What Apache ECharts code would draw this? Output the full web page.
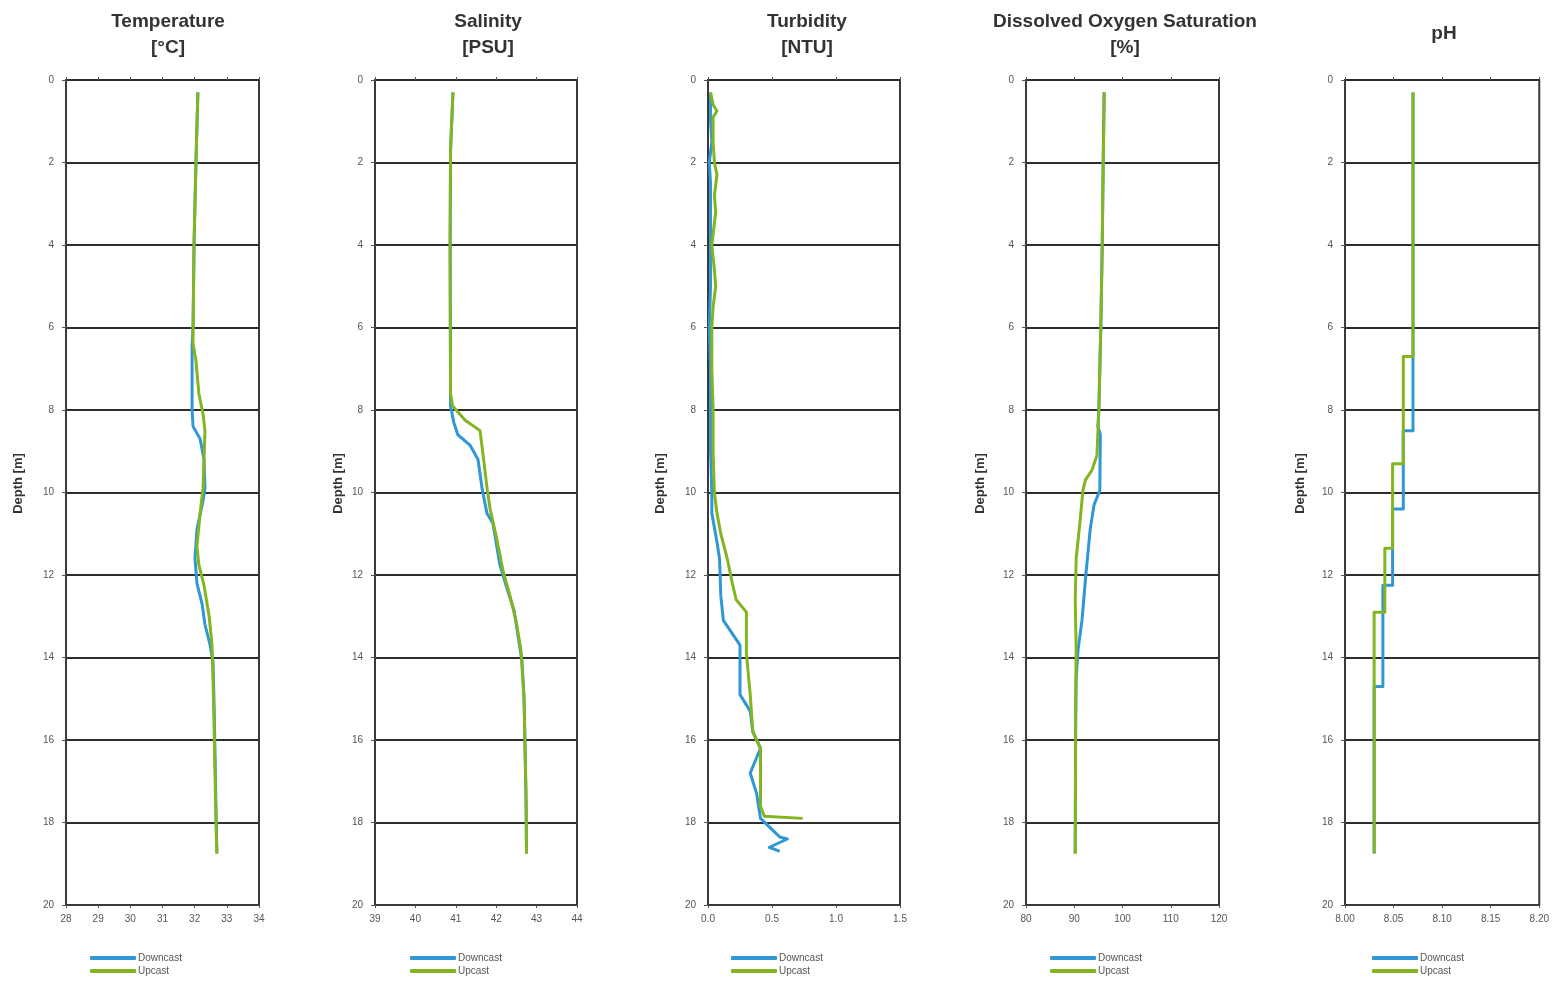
<!DOCTYPE html>
<html>
<head>
<meta charset="utf-8">
<title>CTD profiles</title>
<script src="https://cdn.jsdelivr.net/npm/echarts@6/dist/echarts.min.js"></script>
<style>
  html, body { margin: 0; padding: 0; background: #fff; }
  #chart { width: 1552px; height: 981px; }
</style>
</head>
<body>
<div id="chart"></div>
<script>
// ---- Profile data: depth [m] and measured value, downcast and upcast ----
const tempDownDepth = [0.3, 2.0, 4.0, 6.0, 6.4, 7.0, 8.0, 8.4, 8.7, 9.2, 9.9, 10.2, 10.9, 11.6, 12.2, 12.7, 13.2, 13.7, 14.1, 15.0, 16.2, 17.5, 18.75];
const tempDown      = [32.10, 32.04, 31.98, 31.95, 31.92, 31.92, 31.92, 31.95, 32.17, 32.29, 32.32, 32.26, 32.07, 32.01, 32.07, 32.23, 32.32, 32.48, 32.57, 32.60, 32.63, 32.66, 32.69];
const tempUpDepth   = [0.3, 2.0, 4.0, 6.0, 6.4, 6.8, 7.6, 8.1, 8.5, 9.2, 9.9, 10.5, 11.3, 11.75, 12.25, 13.0, 13.7, 14.5, 15.5, 16.7, 17.9, 18.75];
const tempUp        = [32.10, 32.04, 31.98, 31.95, 31.95, 32.04, 32.13, 32.26, 32.32, 32.29, 32.26, 32.17, 32.07, 32.13, 32.29, 32.45, 32.54, 32.57, 32.60, 32.63, 32.66, 32.69];

const salDownDepth = [0.3, 1.7, 4.0, 7.9, 8.3, 8.6, 8.85, 9.2, 9.9, 10.5, 10.75, 11.75, 12.4, 12.85, 13.6, 14.1, 15.0, 17.5, 18.75];
const salDown      = [40.93, 40.87, 40.86, 40.87, 40.95, 41.05, 41.35, 41.55, 41.65, 41.77, 41.92, 42.09, 42.29, 42.44, 42.56, 42.64, 42.69, 42.74, 42.75];
const salUpDepth   = [0.3, 1.7, 4.0, 7.6, 7.9, 8.25, 8.5, 9.45, 9.95, 10.4, 11.15, 11.9, 12.5, 13.1, 13.8, 15.0, 17.5, 18.75];
const salUp        = [40.93, 40.87, 40.86, 40.87, 40.92, 41.23, 41.60, 41.72, 41.78, 41.85, 42.02, 42.17, 42.34, 42.49, 42.61, 42.69, 42.74, 42.75];

const turbDownDepth = [0.3, 1.0, 1.5, 2.0, 2.5, 3.0, 4.0, 5.0, 6.0, 7.0, 8.0, 9.0, 10.0, 10.5, 11.2, 11.6, 12.5, 13.1, 13.7, 14.9, 15.3, 15.8, 16.2, 16.8, 17.3, 17.9, 18.35, 18.4, 18.6, 18.7];
const turbDown      = [0.02, 0.02, 0.03, 0.01, 0.02, 0.02, 0.02, 0.02, 0.01, 0.02, 0.02, 0.02, 0.03, 0.03, 0.07, 0.09, 0.10, 0.12, 0.25, 0.25, 0.33, 0.35, 0.41, 0.33, 0.38, 0.41, 0.56, 0.62, 0.48, 0.56];
const turbUpDepth   = [0.3, 0.6, 0.75, 0.9, 1.5, 2.0, 2.3, 2.8, 3.2, 4.0, 4.6, 5.0, 5.5, 6.0, 7.0, 8.0, 9.0, 10.0, 10.5, 11.0, 11.6, 12.2, 12.6, 12.9, 13.9, 14.9, 15.8, 16.2, 17.6, 17.85, 17.9];
const turbUp        = [0.02, 0.04, 0.07, 0.04, 0.04, 0.05, 0.07, 0.05, 0.06, 0.03, 0.05, 0.06, 0.04, 0.03, 0.03, 0.04, 0.04, 0.05, 0.07, 0.10, 0.15, 0.19, 0.22, 0.30, 0.30, 0.33, 0.35, 0.41, 0.41, 0.44, 0.74];

const doDownDepth = [0.3, 2.0, 4.0, 6.0, 8.0, 8.4, 8.6, 9.95, 10.3, 10.9, 12.0, 13.1, 13.8, 14.5, 15.5, 18.75];
const doDown      = [96.2, 96.0, 95.8, 95.5, 95.1, 94.9, 95.4, 95.3, 94.1, 93.3, 92.4, 91.6, 90.8, 90.4, 90.3, 90.2];
const doUpDepth   = [0.3, 2.0, 4.0, 6.0, 8.0, 9.1, 9.45, 9.7, 9.95, 10.7, 11.6, 12.6, 13.8, 15.0, 18.75];
const doUp        = [96.2, 96.0, 95.8, 95.5, 95.1, 94.7, 93.7, 92.3, 91.8, 91.2, 90.4, 90.2, 90.4, 90.3, 90.2];

const phDownDepth = [0.3, 8.5, 8.5, 10.4, 10.4, 12.25, 12.25, 14.7, 14.7, 18.75];
const phDown      = [8.070, 8.070, 8.060, 8.060, 8.049, 8.049, 8.039, 8.039, 8.030, 8.030];
const phUpDepth   = [0.3, 6.7, 6.7, 9.3, 9.3, 11.35, 11.35, 12.9, 12.9, 18.75];
const phUp        = [8.070, 8.070, 8.060, 8.060, 8.049, 8.049, 8.041, 8.041, 8.030, 8.030];

// ---- Panel titles, axis ranges and tick label text ----
const panelTitles = ['Temperature\n[°C]', 'Salinity\n[PSU]', 'Turbidity\n[NTU]', 'Dissolved Oxygen Saturation\n[%]', 'pH'];
const xMin      = [28, 39, 0.0, 80, 8.00];
const xMax      = [34, 44, 1.5, 120, 8.20];
const xInterval = [1, 1, 0.5, 10, 0.05];
const xDecimals = [0, 0, 1, 0, 2];
const depthTicks = [0, 20, 2];
const seriesNames = ['Downcast', 'Upcast'];

const downData = [[tempDown, tempDownDepth], [salDown, salDownDepth], [turbDown, turbDownDepth], [doDown, doDownDepth], [phDown, phDownDepth]];
const upData   = [[tempUp, tempUpDepth], [salUp, salUpDepth], [turbUp, turbUpDepth], [doUp, doUpDepth], [phUp, phUpDepth]];

// ---- Layout of the five panels ----
const panelLeft  = [66, 375, 708, 1026, 1345];
const panelWidth = [193, 202, 192, 193, 195];
const panelTop = 80, panelHeight = 825;
const titleCenter = [163, 483, 802, 1120, 1439];
const nameGap = [41, 30, 41, 39, 38];
const legendLeft = [90, 410, 731, 1050, 1372];

const BLUE = '#2f97d6';
const GREEN = '#82b51f';
const FONT = 'Liberation Sans, Arial, sans-serif';

const pairs = (vals, depths) => vals.map((v, i) => [v, depths[i]]);

const grid = [], xAxis = [], yAxis = [], series = [], title = [], legend = [];

for (let i = 0; i < 5; i++) {
  grid.push({
    left: panelLeft[i], top: panelTop, width: panelWidth[i], height: panelHeight,
    show: true, borderColor: '#3a3a3a', borderWidth: 2, backgroundColor: '#fff'
  });
  xAxis.push({
    type: 'value', gridIndex: i, position: 'bottom',
    min: xMin[i], max: xMax[i], interval: xInterval[i],
    axisLine: { show: true, onZero: false, lineStyle: { color: '#3a3a3a', width: 2 } },
    axisTick: { show: true, length: 3, lineStyle: { color: '#555' } },
    splitLine: { show: false },
    axisLabel: {
      color: '#555', fontSize: 10, fontFamily: FONT, margin: 9,
      formatter: v => v.toFixed(xDecimals[i])
    }
  });
  yAxis.push({
    type: 'value', gridIndex: i, inverse: true,
    min: depthTicks[0], max: depthTicks[1], interval: depthTicks[2],
    name: 'Depth [m]', nameLocation: 'middle', nameGap: nameGap[i], nameRotate: 90,
    nameTextStyle: { color: '#333', fontSize: 13, fontWeight: 'bold', fontFamily: FONT, padding: [0, 0, 0, 18] },
    axisLine: { show: true, lineStyle: { color: '#3a3a3a', width: 2 } },
    axisTick: { show: true, length: 4, lineStyle: { color: '#555' } },
    splitLine: { show: true, lineStyle: { color: '#2e2e2e', width: 2 } },
    axisLabel: { color: '#555', fontSize: 10, fontFamily: FONT, margin: 12 }
  });
  title.push({
    text: panelTitles[i],
    left: titleCenter[i], top: i === 4 ? 16 : 4,
    textAlign: 'center',
    textStyle: { color: '#333', fontSize: 19, fontWeight: 'bold', fontFamily: FONT, lineHeight: 26 }
  });
  // one legend per row so the two entries stack vertically
  seriesNames.forEach((nm, k) => {
    legend.push({
      data: [nm],
      left: legendLeft[i], top: 953 + k * 13,
      itemWidth: 46, itemHeight: 4, itemGap: 4, icon: 'roundRect', padding: 0,
      textStyle: { color: '#555', fontSize: 10, fontFamily: FONT, padding: [0, 0, 0, -3] },
      selectedMode: false
    });
  });
  series.push({
    name: seriesNames[0], type: 'line', xAxisIndex: i, yAxisIndex: i,
    data: pairs(downData[i][0], downData[i][1]),
    showSymbol: false, symbol: 'none', silent: true, animation: false,
    lineStyle: { color: BLUE, width: 3, join: 'round' }, itemStyle: { color: BLUE }
  });
  series.push({
    name: seriesNames[1], type: 'line', xAxisIndex: i, yAxisIndex: i,
    data: pairs(upData[i][0], upData[i][1]),
    showSymbol: false, symbol: 'none', silent: true, animation: false,
    lineStyle: { color: GREEN, width: 3, join: 'round' }, itemStyle: { color: GREEN }
  });
}

// Tick marks along the top edge of every panel
for (let i = 0; i < 5; i++) {
  xAxis.push({
    type: 'value', gridIndex: i, position: 'top',
    min: xMin[i], max: xMax[i], interval: xInterval[i],
    axisLine: { show: false },
    axisTick: { show: true, length: 3, lineStyle: { color: '#555' } },
    axisLabel: { show: false }, splitLine: { show: false }
  });
}

const chart = echarts.init(document.getElementById('chart'), null, { renderer: 'canvas' });
chart.setOption({
  backgroundColor: '#ffffff',
  animation: false,
  title, grid, xAxis, yAxis, legend, series
});
</script>
</body>
</html>
